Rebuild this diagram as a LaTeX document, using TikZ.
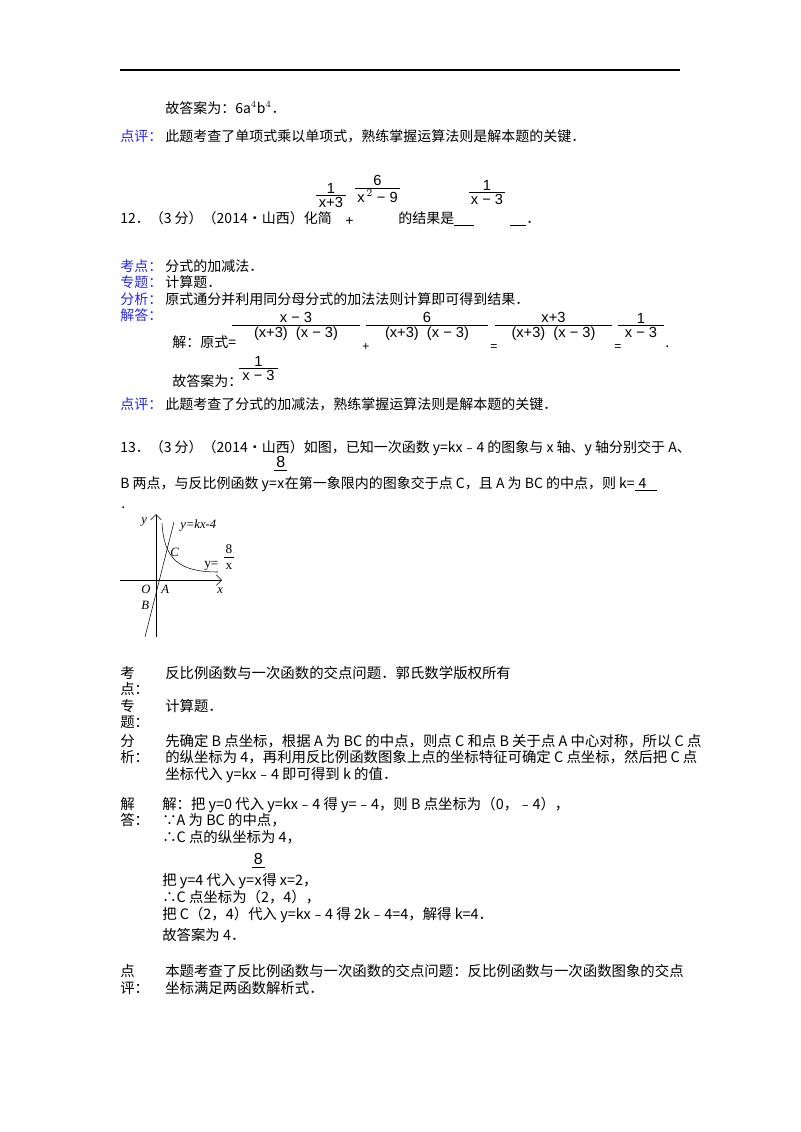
\documentclass[tikz,border=0pt]{standalone}
\usepackage{fontspec}
\usetikzlibrary{arrows.meta}
\setmainfont{Liberation Serif}
\newfontfamily\cjk{Noto Sans CJK SC}
\newfontfamily\mth{Liberation Sans}
\definecolor{lblue}{RGB}{40,40,230}
\newcommand\myfrac[7]{% name, x1, x2, ybar, num, den, size
  \draw[thin] (#2,#4) -- (#3,#4);
  \node[fr,font=\mth\fontsize{#7}{#7}\selectfont,anchor=south] (#1n) at ({(#2+#3)/2},#4) {#5};
  \node[fr,font=\mth\fontsize{#7}{#7}\selectfont,anchor=north] (#1d) at ({(#2+#3)/2},#4) {#6};}
\begin{document}
\begin{tikzpicture}[x=0.75pt,y=-0.75pt,
  t/.style={anchor=base west,inner sep=0pt,font=\cjk\fontsize{10.5}{12}\selectfont},
  tb/.style={t,text=lblue},
  fr/.style={inner sep=1.2pt}]
\useasboundingbox (0,0) rectangle (800,1132);
\fill[white] (0,0) rectangle (800,1132);
\draw[line width=0.8pt] (120,70) -- (680,70);
\node[t] (a1) at (165,113) {故答案为：6a$^4$b$^4$．};
\node[tb] (a2) at (120,141) {点评：};
\node[t] (a3) at (165,141) {此题考查了单项式乘以单项式，熟练掌握运算法则是解本题的关键．};
% Q12
\node[t] (q12) at (120,223) {12．（3 分）（2014•山西）化简};
\myfrac{f1}{316}{346}{195}{1}{x+3}{11}
\node[t] (p1) at (345,225) {\mth +};
\myfrac{f2}{355}{400}{188}{6}{x$^{\,2}$ − 9}{11}
\node[t] (q12b) at (398,223) {的结果是\underline{\hspace{15pt}}};
\myfrac{f3}{469}{505}{192}{1}{x − 3}{11}
\node[t] (q12c) at (510,223) {\underline{\hspace{12pt}}．};
\node[tb] (k1) at (120,271) {考点：};
\node[t] (k1t) at (165,271) {分式的加减法．};
\node[tb] (k2) at (120,287) {专题：};
\node[t] (k2t) at (165,287) {计算题．};
\node[tb] (k3) at (120,304) {分析：};
\node[t] (k3t) at (165,304) {原式通分并利用同分母分式的加法法则计算即可得到结果．};
\node[tb] (k4) at (120,320) {解答：};
\node[t] (s1) at (172,347) {解：原式=};
\myfrac{g1}{232}{360}{325}{x − 3}{(x+3)\ \ (x − 3)}{11}
\node[t] (g1p) at (362,350) {\mth\small +};
\myfrac{g2}{366}{488}{325}{6}{(x+3)\ \ (x − 3)}{11}
\node[t] (g2p) at (490,350) {\mth\small =};
\myfrac{g3}{495}{612}{325}{x+3}{(x+3)\ \ (x − 3)}{11}
\node[t] (g3p) at (614,350) {\mth\small =};
\myfrac{g4}{618}{664}{325}{1}{x − 3}{11}
\node[t] (g4p) at (665,347) {.};
\node[t] (s2) at (172,386) {故答案为：};
\myfrac{g5}{239}{278}{368}{1}{x − 3}{11}
\node[tb] (k5) at (120,409) {点评：};
\node[t] (k5t) at (165,409) {此题考查了分式的加减法，熟练掌握运算法则是解本题的关键．};
% Q13
\node[t] (q13) at (120,452) {13．（3 分）（2014•山西）如图，已知一次函数 y=kx﹣4 的图象与 x 轴、y 轴分别交于 A、};
\node[t] (q13b) at (120,488) {B 两点，与反比例函数 y=};
\node[t] (q13x) at (q13b.base east) {x};
\node[t] (q13c) at (q13x.base east) {在第一象限内的图象交于点 C，且 A 为 BC 的中点，则 k=\underline{\hspace{3pt}4\hspace{8pt}}};
\node[font=\mth\fontsize{12}{12}\selectfont,inner sep=0pt,anchor=south] (eight) at ([yshift=15pt]q13x.base) {8};
\draw[thin] ([xshift=-5pt,yshift=13.5pt]q13x.base) -- ([xshift=5pt,yshift=13.5pt]q13x.base);
\node[t] (dot) at (121,508) {.};
% graph
\coordinate (xl) at (120,580); \coordinate (xr) at (222,580);
\coordinate (yb) at (156,637); \coordinate (yt) at (156,514);
\draw[-{Straight Barb[length=4pt]},thin] (xl) -- (xr);
\draw[-{Straight Barb[length=4pt]},thin] (yb) -- (yt);
\coordinate (l1) at (145,637); \coordinate (l2) at (174,522);
\draw[thin] (l1) -- (l2);
\coordinate (h1) at (162,523); \coordinate (h2) at (218,572);
\draw[thin] (h1) .. controls (164,560) and (180,572) .. (h2);
\begin{scope}[every node/.style={inner sep=0pt,font=\fontsize{9.5}{10}\selectfont\itshape,anchor=base west}]
\node (ly) at (141,523) {y};
\node (lk) at (180,528) {y=kx-4};
\node (lc) at (170,556) {C};
\node (lo) at (141,593) {O};
\node (la) at (161,593) {A};
\node (lb) at (141,609) {B};
\node (lx) at (217,593) {x};
\end{scope}
\node[anchor=base west,inner sep=0pt,font=\fontsize{10}{10}\selectfont] (ly8) at (204,567) {y=};
\node[inner sep=0pt,font=\fontsize{10}{10}\selectfont] (n8) at (229,549) {8};
\draw[thin] (224,557) -- (234,557);
\node[inner sep=0pt,font=\fontsize{10}{10}\selectfont] (d8) at (229,566) {x};
% lower section
\begin{scope}[every node/.style={t,font=\cjk\fontsize{10.8}{12}\selectfont}]
\node (m1) at (120,678) {考};
\node (m1b) at (120,694) {点：};
\node (m1t) at (165,678) {反比例函数与一次函数的交点问题．郭氏数学版权所有};
\node (m2) at (120,711) {专};
\node (m2b) at (120,727) {题：};
\node (m2t) at (165,711) {计算题．};
\node (m3) at (120,746) {分};
\node (m3b) at (120,762) {析：};
\node (m3t) at (165,746) {先确定 B 点坐标，根据 A 为 BC 的中点，则点 C 和点 B 关于点 A 中心对称，所以 C 点};
\node (m3u) at (165,762) {的纵坐标为 4，再利用反比例函数图象上点的坐标特征可确定 C 点坐标，然后把 C 点};
\node (m3v) at (165,779) {坐标代入 y=kx﹣4 即可得到 k 的值．};
\node (m4) at (120,809) {解};
\node (m4b) at (120,825) {答：};
\node (m4t) at (162,809) {解：把 y=0 代入 y=kx﹣4 得 y=﹣4，则 B 点坐标为（0，﹣4），};
\node (m4u) at (162,825) {∵A 为 BC 的中点，};
\node (m4v) at (162,842) {∴C 点的纵坐标为 4，};
\node (m4w) at (162,885) {把 y=4 代入 y=};
\node (m4wx) at (m4w.base east) {x};
\node (m4wc) at (m4wx.base east) {得 x=2，};
\node (m4x) at (162,902) {∴C 点坐标为（2，4），};
\node (m4y) at (162,919) {把 C（2，4）代入 y=kx﹣4 得 2k﹣4=4，解得 k=4．};
\node (m4z) at (162,940) {故答案为 4．};
\node (m5) at (120,976) {点};
\node (m5b) at (120,993) {评：};
\node (m5t) at (165,976) {本题考查了反比例函数与一次函数的交点问题：反比例函数与一次函数图象的交点};
\node (m5u) at (165,993) {坐标满足两函数解析式．};
\end{scope}
\node[font=\mth\fontsize{12}{12}\selectfont,inner sep=0pt,anchor=south] (e8b) at ([yshift=15pt]m4wx.base) {8};
\draw[thin] ([xshift=-5pt,yshift=13.5pt]m4wx.base) -- ([xshift=5pt,yshift=13.5pt]m4wx.base);
\end{tikzpicture}
\end{document}
